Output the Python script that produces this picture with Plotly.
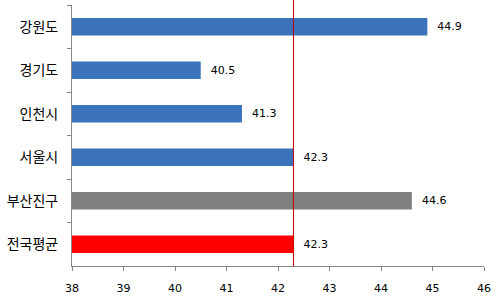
import plotly.graph_objects as go

categories = ["강원도", "경기도", "인천시", "서울시", "부산진구", "전국평균"]
values = [44.9, 40.5, 41.3, 42.3, 44.6, 42.3]
bar_colors = ["#3B73BA", "#3B73BA", "#3B73BA", "#3B73BA", "#808080", "#FF0000"]
ref_value = 42.3
x_ticks = [38, 39, 40, 41, 42, 43, 44, 45, 46]

fig = go.Figure()
fig.add_trace(go.Bar(
    y=categories, x=values, base=0, orientation="h",
    marker=dict(color=bar_colors, line=dict(width=0)),
    width=0.4,
    text=[f"  {v:.1f}" for v in values],
    textposition="outside",
    textfont=dict(family="DejaVu Sans", size=11, color="#000000"),
    cliponaxis=False,
))
fig.add_shape(type="line", xref="x", yref="paper", x0=ref_value, x1=ref_value,
              y0=0, y1=1.02, line=dict(color="#C00000", width=1))

fig.update_layout(
    width=496, height=300,
    margin=dict(l=72, r=9, t=5, b=34),
    plot_bgcolor="white", paper_bgcolor="white",
    showlegend=False,
    xaxis=dict(range=[38, 46], tickvals=x_ticks, showgrid=False, zeroline=False,
               showline=True, linecolor="#868686", linewidth=1,
               ticks="outside", ticklen=4, tickcolor="#868686",
               ticklabelstandoff=8,
               tickfont=dict(family="DejaVu Sans", size=11, color="#000000")),
    yaxis=dict(autorange="reversed", showgrid=False, zeroline=False,
               showline=True, linecolor="#868686", linewidth=1,
               ticks="outside", ticklen=4, tickcolor="#868686", tickson="boundaries",
               ticklabelstandoff=10,
               tickfont=dict(family="Noto Sans CJK KR", size=14, color="#000000")),
)
fig.write_html("out.html")
